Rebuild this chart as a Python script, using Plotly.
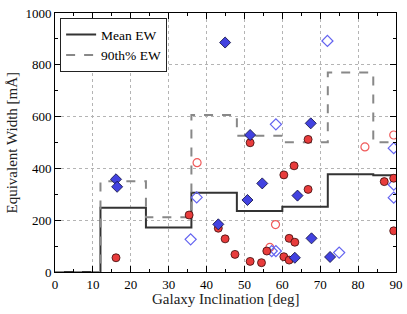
import plotly.graph_objects as go

# Binned statistics (bin edges in deg)
bin_edges = [0, 12, 24, 36, 48, 60, 72, 84, 90]
mean_ew = [0, 248, 172, 306, 236, 252, 377, 374]
p90_ew = [0, 350, 211, 606, 526, 501, 770, 501]

# Red filled circles
red_fill_incl = [16.1, 35.4, 43.1, 44.9, 47.5, 51.5, 54.5, 51.5, 66.8, 63.1,
                 60.4, 66.8, 86.9, 89.4, 89.4, 55.9, 61.8, 63.3, 60.4, 61.8]
red_fill_ew = [55, 220, 169, 128, 68, 41, 36, 499, 512, 410,
               375, 319, 349, 362, 159, 81, 130, 115, 59, 46]

# Red open circles
red_open_incl = [37.5, 58.2, 56.7, 81.8, 89.4]
red_open_ew = [422, 183, 95, 483, 529]

# Blue filled diamonds
blue_fill_incl = [44.9, 16.1, 16.4, 43.1, 50.8, 54.7, 64.0, 67.7, 63.3, 72.6, 51.5, 67.5]
blue_fill_ew = [886, 358, 329, 184, 278, 342, 295, 130, 55, 58, 529, 574]

# Blue open diamonds
blue_open_incl = [71.9, 58.3, 37.4, 35.8, 57.2, 58.3, 75.0, 89.4, 89.4, 89.4]
blue_open_ew = [892, 570, 288, 126, 81, 81, 75, 478, 337, 287]

FONT = "Liberation Serif"

fig = go.Figure()

fig.add_trace(go.Scatter(
    x=bin_edges, y=mean_ew + [mean_ew[-1]], mode="lines", line_shape="hv",
    line=dict(color="#333333", width=2), name="Mean EW"))
fig.add_trace(go.Scatter(
    x=bin_edges, y=p90_ew + [p90_ew[-1]], mode="lines", line_shape="hv",
    line=dict(color="#888888", width=2, dash="dash"), name="90th% EW"))

fig.add_trace(go.Scatter(
    x=red_open_incl, y=red_open_ew, mode="markers", showlegend=False,
    marker=dict(symbol="circle-open", size=8, color="#f05a5a", line=dict(width=1.2))))
fig.add_trace(go.Scatter(
    x=blue_open_incl, y=blue_open_ew, mode="markers", showlegend=False,
    marker=dict(symbol="diamond-open", size=8.5, color="#6464f0", line=dict(width=1.2))))
fig.add_trace(go.Scatter(
    x=red_fill_incl, y=red_fill_ew, mode="markers", showlegend=False,
    marker=dict(symbol="circle", size=8, color="#e83c3c",
                line=dict(color="#3a0a0a", width=0.8))))
fig.add_trace(go.Scatter(
    x=blue_fill_incl, y=blue_fill_ew, mode="markers", showlegend=False,
    marker=dict(symbol="diamond", size=8.5, color="#4242e0",
                line=dict(color="#0a0a3a", width=0.8))))

axis_common = dict(
    showline=True, linecolor="black", linewidth=1, mirror="allticks",
    ticks="inside", ticklen=6, tickcolor="black", tickwidth=1,
    showgrid=True, gridcolor="#b4b4b4", griddash="dot", gridwidth=1,
    zeroline=False, tickfont=dict(family=FONT, size=13, color="black"),
    automargin=False,
)

fig.update_xaxes(range=[0, 90], dtick=10, tick0=0,
                 minor=dict(ticks="inside", dtick=5, ticklen=3, tickcolor="black", showgrid=False),
                 **axis_common)
fig.update_yaxes(range=[0, 1000], dtick=200, tick0=0,
                 minor=dict(ticks="inside", dtick=100, ticklen=3, tickcolor="black", showgrid=False),
                 **axis_common)

fig.update_layout(
    width=407, height=314,
    margin=dict(l=55, r=11, t=13, b=42),
    plot_bgcolor="white", paper_bgcolor="white",
    font=dict(family=FONT, color="black"),
    legend=dict(x=0.015, y=0.98, xanchor="left", yanchor="top",
                bgcolor="white", bordercolor="#222", borderwidth=1,
                font=dict(family=FONT, size=13.5), itemwidth=30,
                tracegroupgap=0),
    annotations=[
        dict(text="Galaxy Inclination [deg]", xref="paper", yref="paper",
             x=0.5, y=0, xanchor="center", yanchor="top", yshift=-17,
             showarrow=False, font=dict(family=FONT, size=15, color="#222")),
        dict(text="Equivalent Width [mÅ]", xref="paper", yref="paper",
             x=0, y=0.5, xanchor="right", yanchor="middle", xshift=-34,
             textangle=-90, showarrow=False,
             font=dict(family=FONT, size=15, color="#222")),
    ],
)

# Remove the page's default body margin so the figure fills the window exactly.
fig.write_html("out.html",
               config={"displayModeBar": False},
               post_script="document.body.style.margin='0';document.body.style.overflow='hidden';")
